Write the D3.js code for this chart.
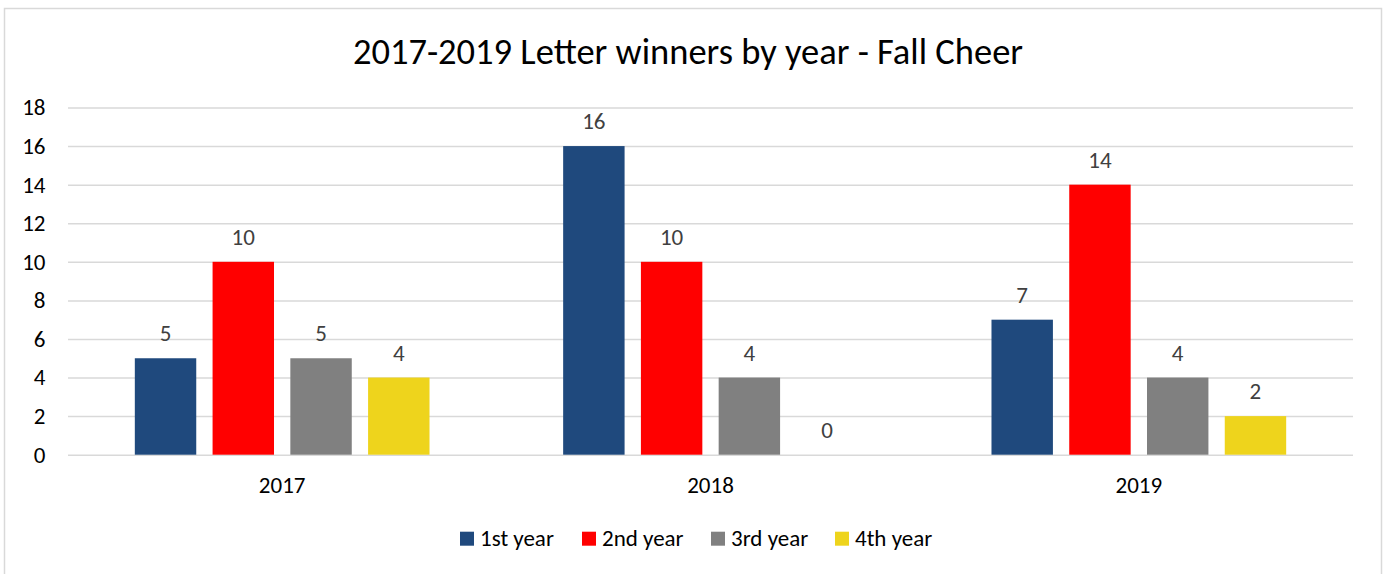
<!DOCTYPE html>
<html><head><meta charset="utf-8">
<script src="https://cdn.jsdelivr.net/npm/d3@7"></script>
<style>
html,body{margin:0;padding:0;background:#fff;}
svg{display:block;font-family:Carlito,Lato,"Liberation Sans",sans-serif;}
</style></head>
<body>
<svg id="c" width="1383" height="574"></svg>
<script>
const title = "2017-2019 Letter winners by year - Fall Cheer";
const categories = ["2017", "2018", "2019"];
const seriesNames = ["1st year", "2nd year", "3rd year", "4th year"];
const firstYear = [5, 16, 7];
const secondYear = [10, 10, 14];
const thirdYear = [5, 4, 4];
const fourthYear = [4, 0, 2];
const yTicks = [0, 2, 4, 6, 8, 10, 12, 14, 16, 18];
const colors = ["#1f497d", "#ff0000", "#808080", "#eed41c"];

const seriesValues = [firstYear, secondYear, thirdYear, fourthYear];
const rows = categories.map((c, i) => ({cat: c, vals: seriesNames.map((s, j) => ({s, j, v: seriesValues[j][i]}))}));

const svg = d3.select("#c");
// outer chart border
svg.append("rect").attr("x", 4.5).attr("y", 8.5).attr("width", 1377).attr("height", 580)
  .attr("fill", "#fff").attr("stroke", "#d9d9d9").attr("stroke-width", 1.5);

svg.append("text").attr("x", 688).attr("y", 64).attr("text-anchor", "middle")
  .attr("font-size", 36.5).attr("fill", "#000").text(title);

const x0 = d3.scaleBand().domain(categories).range([68, 1353]).paddingInner(0).paddingOuter(0);
const groupW = x0.bandwidth() * 0.688;
const x1 = d3.scaleBand().domain(seriesNames).range([(x0.bandwidth() - groupW) / 2, (x0.bandwidth() + groupW) / 2]).paddingInner(0.21).paddingOuter(0);
const y = d3.scaleLinear().domain([0, 18]).range([454.7, 107.5]);

// gridlines
const yAxis = d3.axisLeft(y).tickValues(yTicks).tickSize(-(1353 - 68)).tickPadding(22.5);
const gy = svg.append("g").attr("transform", "translate(68,0)").call(yAxis);
gy.select(".domain").remove();
gy.selectAll(".tick line").attr("stroke", "#d9d9d9").attr("stroke-width", 1.5);
gy.selectAll(".tick text").attr("font-size", 23).attr("fill", "#000").attr("font-family", "Carlito,Lato,sans-serif");

// category axis
const xAxis = d3.axisBottom(x0).tickSize(0).tickPadding(21.5);
const gx = svg.append("g").attr("transform", "translate(0,454.7)").call(xAxis);
gx.select(".domain").remove();
gx.selectAll(".tick text").attr("font-size", 23).attr("fill", "#000").attr("font-family", "Carlito,Lato,sans-serif");

const groups = svg.append("g").selectAll("g").data(rows).join("g")
  .attr("transform", d => `translate(${x0(d.cat)},0)`);
groups.selectAll("rect").data(d => d.vals).join("rect")
  .attr("x", d => x1(d.s)).attr("width", x1.bandwidth())
  .attr("y", d => y(d.v)).attr("height", d => y(0) - y(d.v))
  .attr("fill", d => colors[d.j]);
groups.selectAll("text").data(d => d.vals).join("text")
  .attr("x", d => x1(d.s) + x1.bandwidth() / 2).attr("y", d => y(d.v) - 17)
  .attr("text-anchor", "middle").attr("font-size", 23).attr("fill", "#404040")
  .text(d => d.v);

// legend
const legendX = [460, 582, 711, 835];
const lg = svg.append("g").selectAll("g").data(seriesNames).join("g")
  .attr("transform", (d, i) => `translate(${legendX[i]},531.7)`);
lg.append("rect").attr("width", 14).attr("height", 14).attr("fill", (d, i) => colors[i]);
lg.append("text").attr("x", 20).attr("y", 14).attr("font-size", 23).attr("fill", "#000").text(d => d);
</script>
</body></html>
